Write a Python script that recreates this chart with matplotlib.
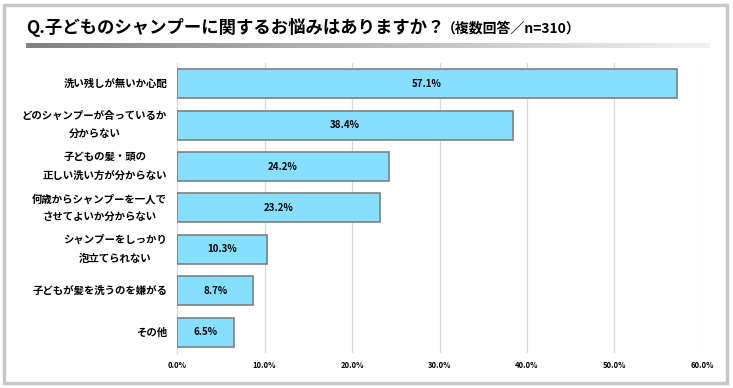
import matplotlib
matplotlib.use("Agg")
import matplotlib.pyplot as plt
import numpy as np
from matplotlib.patches import Rectangle

plt.rcParams["font.family"] = ["Noto Sans CJK JP", "DejaVu Sans"]

labels = [
    "洗い残しが無いか心配",
    "どのシャンプーが合っているか\n分からない",
    "子どもの髪・頭の\n正しい洗い方が分からない",
    "何歳からシャンプーを一人で\nさせてよいか分からない",
    "シャンプーをしっかり\n泡立てられない",
    "子どもが髪を洗うのを嫌がる",
    "その他",
]
values = [57.1, 38.4, 24.2, 23.2, 10.3, 8.7, 6.5]
xticks = [0, 10, 20, 30, 40, 50, 60]

fig = plt.figure(figsize=(7.33, 3.88), dpi=100)

# outer frame
fig.patches.append(Rectangle((0.005, 0.012), 0.987, 0.975, transform=fig.transFigure,
                             fill=False, edgecolor="#c8c8c8", linewidth=2.5))

# title
fig.text(0.035, 0.928, "Q.子どものシャンプーに関するお悩みはありますか？",
         fontsize=12.5, fontweight="bold", va="center", ha="left")
fig.text(0.603, 0.926, "（複数回答／n=310）", fontsize=10, fontweight="bold",
         va="center", ha="left")

# gradient underline
gax = fig.add_axes([0.036, 0.875, 0.933, 0.014])
grad = np.linspace(0, 1, 256).reshape(1, -1)
gax.imshow(grad, aspect="auto", cmap=matplotlib.colors.LinearSegmentedColormap.from_list(
    "g", ["#808080", "#f2f2f2"]))
gax.axis("off")

ax = fig.add_axes([0.2415, 0.090, 0.7162, 0.748])
y = np.arange(len(values))
ax.barh(y, values, height=0.7, color="#87dfff", edgecolor="#7f7f7f", linewidth=1.2, zorder=3)
for yi, v in zip(y, values):
    ax.text(v / 2, yi, f"{v:.1f}%", ha="center", va="center", fontsize=7,
            fontweight="bold", zorder=4)

# category labels drawn as text so line spacing can be set
for yi, lab in zip(y, labels):
    ax.text(-0.019, yi, lab, transform=ax.get_yaxis_transform(), ha="right",
            va="center", multialignment="center", linespacing=2.0,
            fontsize=7.5, fontweight="bold")

ax.set_xlim(0, 60)
ax.set_ylim(6.5, -0.5)
ax.set_xticks(xticks)
ax.set_xticklabels([f"{t:.1f}%" for t in xticks], fontsize=5.5, fontweight="bold")
ax.set_yticks([])
ax.tick_params(axis="both", length=0)
ax.tick_params(axis="x", pad=6)
ax.grid(axis="x", color="#d9d9d9", linewidth=0.9, zorder=0)
for s in ["top", "right", "bottom"]:
    ax.spines[s].set_visible(False)
ax.spines["left"].set_color("#d9d9d9")

fig.savefig("out.png", dpi=100)
